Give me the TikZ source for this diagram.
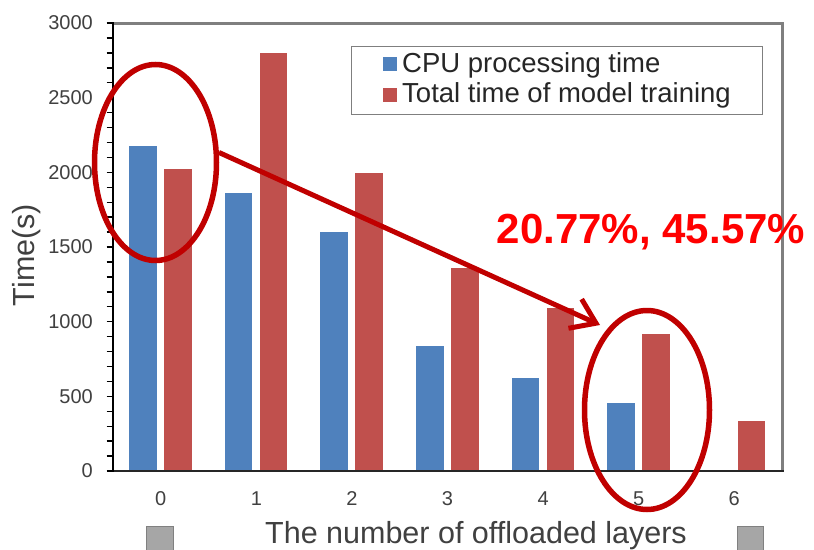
\documentclass[tikz,border=0pt]{standalone}
\usepackage{fontspec}
\setmainfont{Liberation Sans}
\usetikzlibrary{arrows.meta,shapes.geometric}
\definecolor{cpublue}{HTML}{4F81BD}
\definecolor{totred}{HTML}{C0504D}
\definecolor{markred}{HTML}{C00000}
\definecolor{axisgrey}{HTML}{7F7F7F}
\definecolor{labelgrey}{HTML}{404040}
\definecolor{boxgrey}{HTML}{A6A6A6}

\begin{document}
\begin{tikzpicture}[x=1pt,y=-1pt,
  bluebar/.style={fill=cpublue},
  redbar/.style={fill=totred},
  ticklbl/.style={text=labelgrey,font=\fontsize{20}{24}\selectfont,inner sep=0pt},
  axislbl/.style={text=labelgrey,font=\fontsize{30.5}{36}\selectfont,inner sep=0pt},
  legtext/.style={text=black!85,font=\fontsize{27.5}{32}\selectfont,inner sep=0pt,anchor=base west},
  ring/.style={draw=markred,line width=5.5pt,ellipse,inner sep=0pt},
  pointer/.style={draw=markred,line width=5pt,-{Straight Barb[length=23pt,width=32pt]}},
  greybox/.style={fill=boxgrey,draw=black!50,line width=1pt},
]
\useasboundingbox (0,0) rectangle (814,549);
\clip (0,0) rectangle (814,549);
\fill[white] (0,0) rectangle (814,549);

% bars: category centre = 113 + 95.57*(i+0.5), value scale 448px / 3000 s
\foreach \i/\v in {0/2177,1/1864,2/1602,3/839,4/623,5/455}
  \fill[bluebar] ({113+95.57*(\i+0.5)-31.5},471) rectangle ({113+95.57*(\i+0.5)-4},{471-\v*0.149333});
\foreach \i/\v in {0/2023,1/2800,2/1993,3/1361,4/1091,5/917,6/335}
  \fill[redbar] ({113+95.57*(\i+0.5)+3.5},471) rectangle ({113+95.57*(\i+0.5)+31},{471-\v*0.149333});

% plot frame
\draw[axisgrey,line width=3pt] (113,23) -- (782,23) -- (782,471);
\draw[black!85,line width=2.5pt] (111.5,471) -- (783.5,471);
\draw[black,line width=2pt] (113,22) -- (113,472);

% y ticks every 100 s
\foreach \k in {0,...,30}
  \draw[black,line width=1.4pt] (106.5,{471-\k*14.9333}) -- (113,{471-\k*14.9333});

% tick labels
\foreach \v in {0,500,1000,1500,2000,2500,3000}
  \node[ticklbl,anchor=east] (yl\v) at (93,{471-\v*0.149333}) {\v};
\foreach \i in {0,...,6}
  \node[ticklbl,anchor=base] (xl\i) at ({113+95.57*(\i+0.5)},505) {\i};

% axis titles
\node[axislbl,rotate=90] (ylab) at (27,255) {Time(s)};
\node[axislbl,anchor=base] (xlab) at (476,543) {The number of offloaded layers};

% legend
\node[draw=axisgrey,line width=1.2pt,minimum width=411pt,minimum height=68pt,
      anchor=north west,inner sep=0pt] (legend) at (351,46) {};
\fill[cpublue] (383,57) rectangle (397,71);
\fill[totred] (383,88) rectangle (397,102);
\node[legtext] (legcpu) at (402,72) {CPU processing time};
\node[legtext] (legtot) at (402,102) {Total time of model training};

% small grey boxes below the axis
\draw[greybox] (146,526) rectangle (173,556);
\draw[greybox] (737,526) rectangle (763,556);

% highlight rings and pointer
\node[ring,minimum width=122pt,minimum height=196pt] (ring0) at (155.5,162.5) {};
\node[ring,minimum width=125pt,minimum height=199pt] (ring5) at (647,410) {};
\coordinate (tipend) at (600,325);
\draw[pointer] (ring0.9) -- (tipend);

\node[text=red,font=\bfseries\fontsize{42}{50}\selectfont,anchor=base,inner sep=0pt]
  (gain) at (651,243) {20.77\%, 45.57\%};
\end{tikzpicture}
\end{document}
